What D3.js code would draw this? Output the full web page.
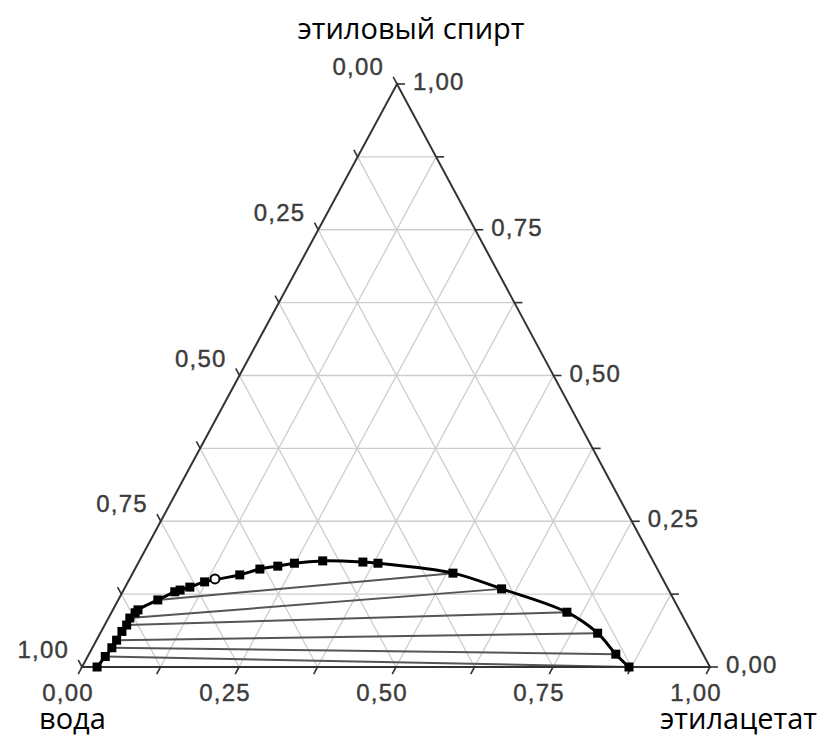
<!DOCTYPE html>
<html>
<head>
<meta charset="utf-8">
<script src="https://cdn.jsdelivr.net/npm/d3@7/dist/d3.min.js"></script>
<style>
  html, body { margin: 0; padding: 0; background: #fff; }
  svg { display: block; }
</style>
</head>
<body>
<svg id="chart" width="821" height="740"></svg>
<script>
// ---------- data ----------
const componentNames = ["вода", "этилацетат", "этиловый спирт"];
const tickValues = [0, 0.125, 0.25, 0.375, 0.5, 0.625, 0.75, 0.875, 1];
const labelValues = [0, 0.25, 0.5, 0.75, 1];
const labelTexts = ["0,00", "0,25", "0,50", "0,75", "1,00"];

// binodal curve (mass fractions of ethyl acetate and ethanol)
const binodalAcetate = [0.024, 0.028, 0.031, 0.032, 0.033, 0.035, 0.034, 0.038, 0.040,
  0.063, 0.083, 0.090, 0.103, 0.122, 0.172, 0.199, 0.225, 0.249, 0.292, 0.357, 0.382,
  0.510, 0.601, 0.725, 0.792, 0.839, 0.871];
const binodalEthanol = [0.000, 0.018, 0.033, 0.046, 0.061, 0.072, 0.084, 0.093, 0.098,
  0.115, 0.129, 0.132, 0.137, 0.146, 0.158, 0.168, 0.173, 0.178, 0.182, 0.180, 0.178,
  0.161, 0.134, 0.094, 0.058, 0.022, 0.000];

// plait point (open circle)
const plaitAcetate = [0.136];
const plaitEthanol = [0.151];

// tie lines: water-rich end -> ester-rich end
const tieAcetateLeft  = [0.063, 0.034, 0.035, 0.032, 0.031, 0.028, 0.024];
const tieEthanolLeft  = [0.115, 0.084, 0.072, 0.046, 0.033, 0.018, 0.000];
const tieAcetateRight = [0.510, 0.601, 0.725, 0.792, 0.839, 0.871, 0.871];
const tieEthanolRight = [0.161, 0.134, 0.094, 0.058, 0.022, 0.000, 0.000];

// ---------- geometry ----------
const L = {x: 82, y: 667};   // water vertex
const R = {x: 710, y: 667};  // ethyl acetate vertex
const T = {x: 397, y: 84};   // ethanol vertex

const acetateX = d3.scaleLinear().domain([0, 1]).range([0, R.x - L.x]);
const ethanolX = d3.scaleLinear().domain([0, 1]).range([0, T.x - L.x]);
const ethanolY = d3.scaleLinear().domain([0, 1]).range([L.y, T.y]);

function proj(a, e) {
  return [L.x + acetateX(a) + ethanolX(e), ethanolY(e)];
}

const svg = d3.select("#chart");
const line = d3.line();

// ---------- grid ----------
const grid = svg.append("g").attr("stroke", "#cdcdcd").attr("stroke-width", 1.3).attr("fill", "none");
tickValues.filter(v => v > 0 && v < 1).forEach(v => {
  grid.append("path").attr("d", line([proj(0, v), proj(1 - v, v)]));       // constant ethanol
  grid.append("path").attr("d", line([proj(v, 0), proj(v, 1 - v)]));       // constant acetate
  grid.append("path").attr("d", line([proj(0, 1 - v), proj(1 - v, 0)]));   // constant water
});

// ---------- tie lines ----------
const tie = svg.append("g").attr("stroke", "#555").attr("stroke-width", 2).attr("fill", "none");
tieAcetateLeft.forEach((a, i) => {
  tie.append("path").attr("d", line([proj(a, tieEthanolLeft[i]), proj(tieAcetateRight[i], tieEthanolRight[i])]));
});

// ---------- triangle edges ----------
svg.append("path")
  .attr("d", line([[L.x, L.y], [R.x, R.y], [T.x, T.y]]) + "Z")
  .attr("fill", "none").attr("stroke", "#333").attr("stroke-width", 2);

// ---------- ticks ----------
function unit(dx, dy) { const n = Math.hypot(dx, dy); return [dx / n, dy / n]; }
const tickLen = 8;
const dBottom = unit(L.x - T.x, L.y - T.y);  // down-left
const dRight = [1, 0];
const dLeft = unit(T.x - R.x, T.y - R.y);    // up-left
const ticks = svg.append("g").attr("stroke", "#333").attr("stroke-width", 1.6);
tickValues.forEach(v => {
  const pb = proj(v, 0);
  ticks.append("line").attr("x1", pb[0]).attr("y1", pb[1])
    .attr("x2", pb[0] + dBottom[0] * tickLen).attr("y2", pb[1] + dBottom[1] * tickLen);
  const pr = proj(1 - v, v);
  ticks.append("line").attr("x1", pr[0]).attr("y1", pr[1])
    .attr("x2", pr[0] + dRight[0] * tickLen).attr("y2", pr[1] + dRight[1] * tickLen);
  const pl = proj(0, 1 - v);
  ticks.append("line").attr("x1", pl[0]).attr("y1", pl[1])
    .attr("x2", pl[0] + dLeft[0] * tickLen).attr("y2", pl[1] + dLeft[1] * tickLen);
});

// ---------- tick labels ----------
const lab = svg.append("g")
  .attr("font-family", "'Liberation Sans', Arial, sans-serif")
  .attr("font-size", 24).attr("letter-spacing", 1.2)
  .attr("fill", "#3c3c3c").attr("stroke", "#3c3c3c").attr("stroke-width", 0.4);
labelValues.forEach((v, i) => {
  const pb = proj(v, 0);
  lab.append("text").attr("x", pb[0] - 14).attr("y", pb[1] + 34)
    .attr("text-anchor", "middle").text(labelTexts[i]);
  const pr = proj(1 - v, v);
  lab.append("text").attr("x", pr[0] + 16).attr("y", pr[1] + 6)
    .attr("text-anchor", "start").text(labelTexts[i]);
  const pl = proj(0, 1 - v);
  lab.append("text").attr("x", pl[0] - 13).attr("y", pl[1] - 9)
    .attr("text-anchor", "end").text(labelTexts[i]);
});

// ---------- binodal curve ----------
const pts = binodalAcetate.map((a, i) => proj(a, binodalEthanol[i]));
svg.append("path")
  .attr("d", d3.line().curve(d3.curveCatmullRom.alpha(0.5))(pts))
  .attr("fill", "none").attr("stroke", "#000").attr("stroke-width", 3);

svg.append("g").selectAll("rect").data(pts).join("rect")
  .attr("x", d => d[0] - 4.5).attr("y", d => d[1] - 4.5)
  .attr("width", 9).attr("height", 9).attr("fill", "#000");

plaitAcetate.forEach((a, i) => {
  const p = proj(a, plaitEthanol[i]);
  svg.append("circle").attr("cx", p[0]).attr("cy", p[1]).attr("r", 4.5)
    .attr("fill", "#fff").attr("stroke", "#000").attr("stroke-width", 2);
});

// ---------- component names ----------
const names = svg.append("g")
  .attr("font-family", "'Open Sans', 'Noto Sans', sans-serif")
  .attr("font-size", 29).attr("fill", "#000");
names.append("text").attr("x", 411).attr("y", 39).attr("text-anchor", "middle").text(componentNames[2]);
names.append("text").attr("x", 39).attr("y", 729).attr("text-anchor", "start").text(componentNames[0]);
names.append("text").attr("x", 817).attr("y", 729).attr("text-anchor", "end").text(componentNames[1]);
</script>
</body>
</html>
